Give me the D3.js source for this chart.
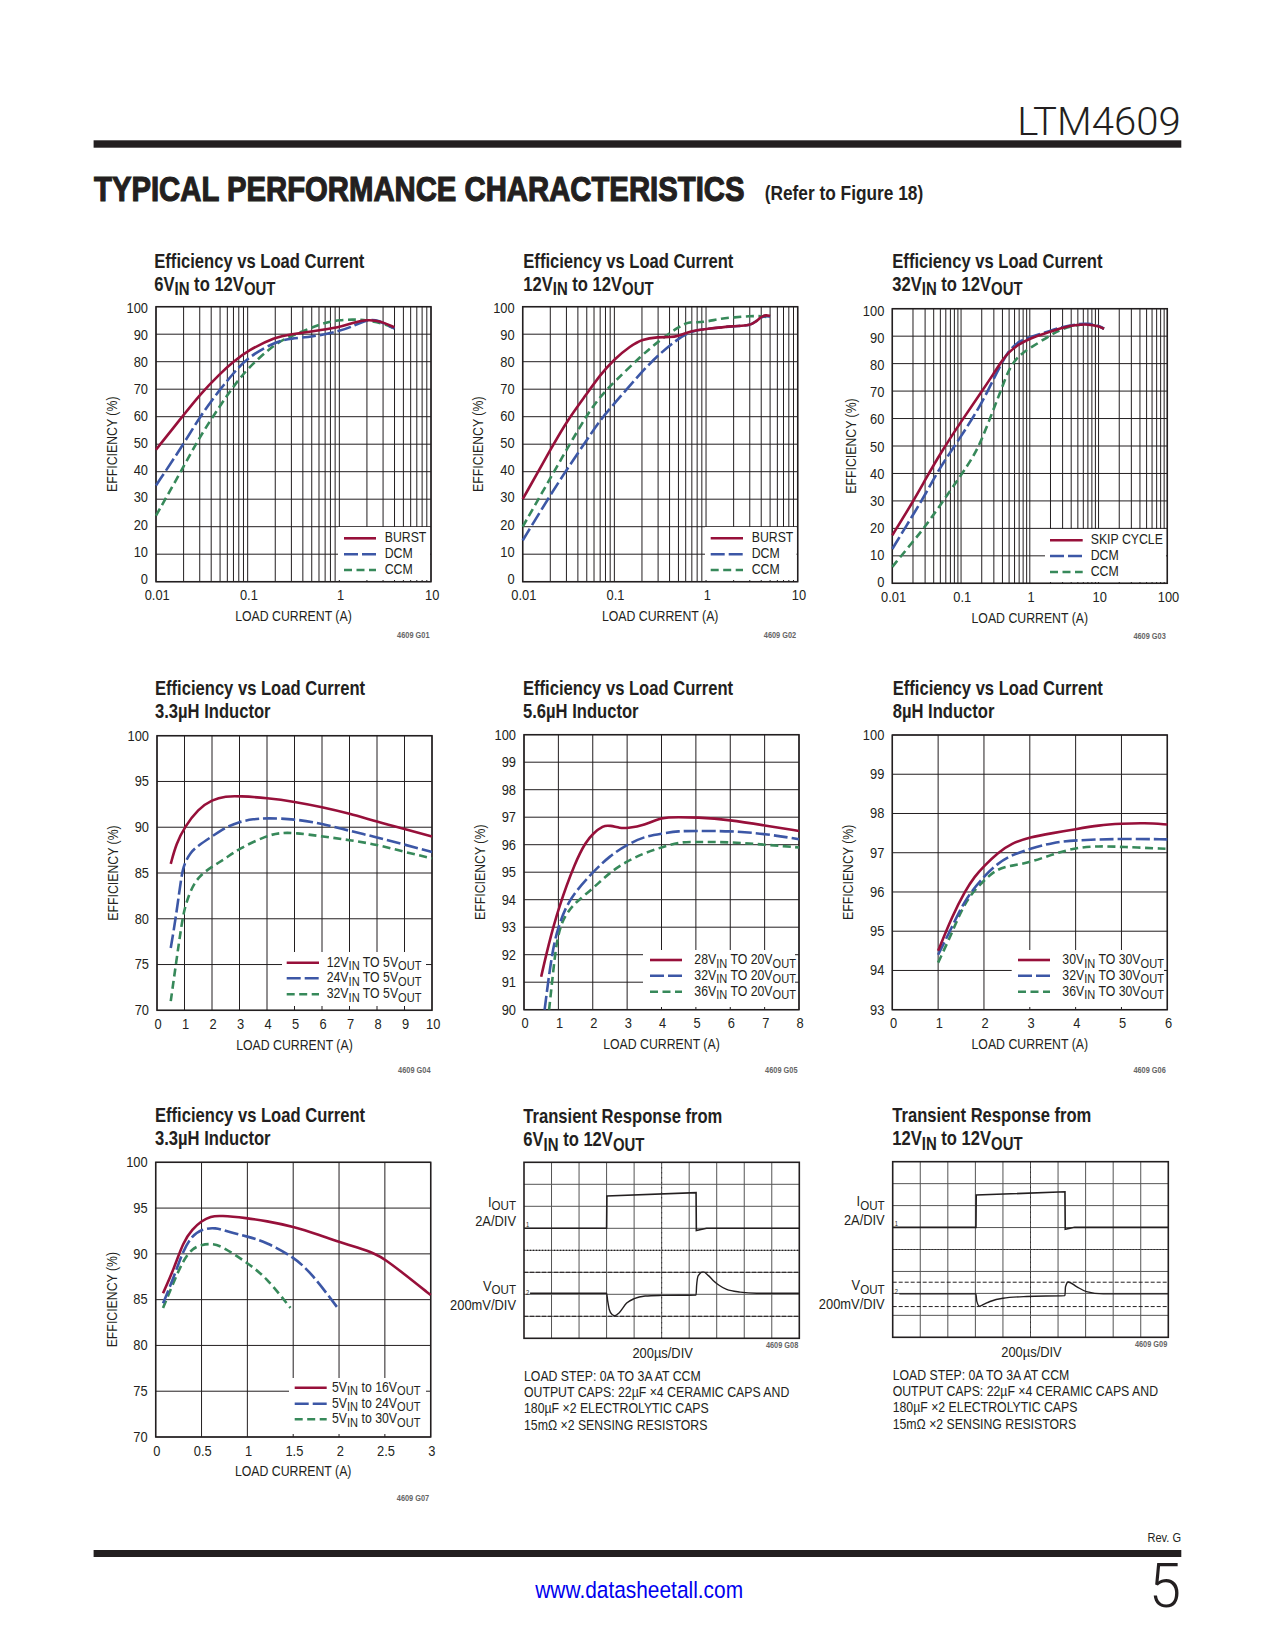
<!DOCTYPE html>
<html>
<head>
<meta charset="utf-8">
<script src="https://cdn.jsdelivr.net/npm/d3@7"></script>
<style>
  html, body { margin: 0; background: #fff; }
  text { font-family: "Liberation Sans", sans-serif; fill: #231f20; }
  .domain { display: none; }
</style>
</head>
<body>
<svg id="page" width="1275" height="1650"></svg>
<script>
// ── Values: [load current (A), efficiency (%)] ───────────────────────────────
const g01Burst = [[0.01,48],[0.02,60.6],[0.03,68],[0.05,75.7],[0.07,80],[0.1,84],[0.2,89],[0.3,90],[0.5,91],[1,92.4],[1.5,94.5],[2,95.2],[2.5,95],[3,94.3],[4,92.5]];
const g01Dcm   = [[0.01,35],[0.02,50],[0.03,60],[0.05,70],[0.07,75.8],[0.1,81.6],[0.2,87.3],[0.3,88.5],[0.5,89],[1,91],[1.5,93.3],[2,95.2],[2.5,95.2],[3,94.2],[4,92]];
const g01Ccm   = [[0.01,24],[0.02,41.8],[0.03,52.7],[0.05,64],[0.07,71],[0.1,77.6],[0.2,86.7],[0.3,89.3],[0.5,92.5],[0.7,94.2],[1,95.2],[1.5,95.4],[2,95],[3,94],[4,92]];

const g02Burst = [[0.01,30],[0.02,47.9],[0.03,58.2],[0.05,68.3],[0.07,75.2],[0.1,81],[0.15,85.7],[0.2,88.2],[0.3,89],[0.4,88.9],[0.5,89.3],[0.7,91.3],[1,91.9],[2,93],[3,93.1],[3.5,94.5],[4,96.4],[4.5,97],[5,96.6]];
const g02Dcm   = [[0.01,15],[0.02,31.5],[0.03,40.6],[0.05,51.5],[0.07,58.8],[0.1,64.8],[0.2,76.4],[0.3,82.4],[0.5,88.5],[0.7,91.2],[1,91.9],[2,93],[3,93.1],[3.5,94.6],[4,96.2],[4.5,96.7],[5,96.4]];
const g02Ccm   = [[0.01,20],[0.02,37.6],[0.03,47.9],[0.05,60.6],[0.07,67.3],[0.1,72.7],[0.2,82.4],[0.3,87.3],[0.5,92.7],[0.65,94.5],[0.8,94.3],[1,94.5],[1.5,95.8],[2,96.1],[3,96.6],[4,96.6],[5,96.1]];

const g03Skip  = [[0.01,17.5],[0.02,29.7],[0.03,37.6],[0.05,47.3],[0.1,58.9],[0.2,69.8],[0.3,76.5],[0.4,81.3],[0.5,84.3],[0.7,87.1],[1,89.2],[2,91.6],[3,93.2],[5,94.2],[7,94.3],[10,93.7],[12,92.7]];
const g03Dcm   = [[0.01,12.5],[0.02,24.9],[0.03,32.2],[0.05,42.5],[0.1,53.4],[0.2,65.5],[0.3,74.6],[0.4,80.7],[0.5,84.9],[0.7,88.2],[1,89.6],[2,92],[3,93.4],[5,94.4],[7,94.7],[10,93.8],[12,92.7]];
const g03Ccm   = [[0.01,6],[0.02,15.2],[0.03,20.6],[0.05,28.5],[0.1,39.4],[0.15,46],[0.2,52.2],[0.3,63.7],[0.4,71.6],[0.5,78.3],[0.7,83.1],[1,85.6],[2,90.4],[3,92.8],[5,94.2],[7,94.4],[10,93.8],[12,92.7]];

const g04a = [[0.5,86],[0.7,88.2],[1,90],[1.5,92],[2,93],[2.5,93.4],[3,93.4],[4,93.2],[5,92.8],[6,92.2],[7,91.5],[8,90.6],[9,89.8],[10,89]];
const g04b = [[0.5,76.8],[0.7,80.4],[0.9,85],[1,86],[1.2,87.2],[1.5,88],[2,89],[2.5,90],[3,90.6],[3.5,90.9],[4,91],[5,90.9],[6,90.4],[7,89.6],[8,88.9],[9,88.1],[10,87.3]];
const g04c = [[0.5,71],[0.7,75.3],[0.9,79.5],[1,81.1],[1.2,83],[1.5,84.6],[2,85.7],[2.5,86.6],[3,87.7],[4,89.1],[4.5,89.4],[5,89.4],[6,89],[7,88.6],[8,88.1],[9,87.3],[10,86.6]];

const g05a = [[0.5,91.2],[0.7,92.3],[1,93.7],[1.5,95.4],[1.8,96.1],[2,96.4],[2.3,96.7],[2.5,96.7],[2.8,96.6],[3,96.6],[3.5,96.7],[4,97],[4.5,97],[5,97],[6,96.9],[7,96.7],[8,96.5]];
const g05b = [[0.6,90],[0.7,91],[0.85,92.3],[1,93],[1.2,93.7],[1.5,94.3],[2,95],[2.5,95.6],[3,96],[3.5,96.3],[4,96.4],[4.5,96.5],[5,96.5],[6,96.5],[7,96.4],[8,96.2]];
const g05c = [[0.73,90],[0.85,91.4],[0.95,92.5],[1.1,93.2],[1.3,93.6],[1.5,93.9],[2,94.4],[2.5,95],[3,95.4],[3.5,95.7],[4,95.9],[4.5,96.1],[5,96.1],[6,96.1],[7,96],[8,95.9]];

const g06a = [[1,94.5],[1.3,95.37],[1.6,96.05],[1.8,96.4],[2,96.66],[2.3,97],[2.6,97.24],[3,97.4],[3.5,97.5],[4,97.6],[4.5,97.7],[5,97.74],[5.5,97.76],[6,97.72]];
const g06b = [[1,94.4],[1.3,95.1],[1.6,95.84],[2,96.4],[2.3,96.73],[2.6,96.94],[3,97.1],[3.5,97.26],[4,97.32],[5,97.36],[6,97.34]];
const g06c = [[1,94.2],[1.3,94.95],[1.6,95.8],[2,96.3],[2.3,96.6],[2.6,96.67],[3,96.75],[3.5,96.96],[4,97.13],[4.5,97.17],[5,97.15],[6,97.1]];

const g07a = [[0.08,85.7],[0.2,88.4],[0.3,91.3],[0.4,92.7],[0.5,93.6],[0.6,94.1],[0.7,94.2],[1,93.9],[1.2,93.6],[1.5,93],[1.8,92],[2,91.3],[2.2,90.7],[2.4,90],[2.5,89.4],[2.7,87.9],[3,85.5]];
const g07b = [[0.08,84.6],[0.2,87.5],[0.3,90.4],[0.4,92],[0.5,92.7],[0.65,92.9],[0.8,92.4],[1,91.9],[1.2,91.3],[1.5,89.7],[1.7,87.9],[2,83.9]];
const g07c = [[0.08,84.1],[0.2,87],[0.3,89.3],[0.4,90.6],[0.5,91],[0.6,91.1],[0.7,91],[1,89],[1.2,87.5],[1.47,84.1]];

// Scope traces: [divisions from left, divisions from top]
const g08Iout = [[0,3],[3,3],[3.01,1.53],[6.25,1.38],[6.26,3.1],[6.63,3],[10,3]];
const g08Vout = [[0.22,5.95],[3,5.95],[3.04,6.3],[3.1,6.7],[3.2,6.92],[3.3,6.97],[3.45,6.85],[3.73,6.4],[4,6.2],[4.4,6.08],[5,6.05],[6.25,6.03],[6.27,5.6],[6.33,5.15],[6.51,4.98],[6.7,5.15],[6.88,5.38],[7.1,5.6],[7.36,5.78],[7.85,5.9],[8.45,5.95],[10,5.95]];
const g09Iout = [[0,2.99],[3.02,2.99],[3.03,1.52],[6.25,1.37],[6.26,3.08],[6.6,2.99],[10,2.99]];
const g09Vout = [[0.24,6.02],[3.02,6.02],[3.05,6.35],[3.15,6.58],[3.3,6.5],[3.53,6.37],[4,6.22],[4.86,6.14],[6.25,6.1],[6.27,5.7],[6.37,5.48],[6.67,5.69],[7.03,5.92],[7.64,6.02],[10,6.02]];

const scopeLevelsG08 = [5, 7];
const scopeLevelsG09 = [5.49, 6.6];

const noteLines = ["LOAD STEP: 0A TO 3A AT CCM", "OUTPUT CAPS: 22µF ×4 CERAMIC CAPS AND", "180µF ×2 ELECTROLYTIC CAPS", "15mΩ ×2 SENSING RESISTORS"];

const logTicks2 = [0.01,0.02,0.03,0.04,0.05,0.06,0.07,0.08,0.09,0.1,0.2,0.3,0.4,0.5,0.6,0.7,0.8,0.9,1,2,3,4,5,6,7,8,9,10];
const logTicks3 = logTicks2.concat([20,30,40,50,60,70,80,90,100]);
const logLabels = [0.01, 0.1, 1, 10, 100];

const RED = "#97103a", BLUE = "#3c57a6", GREEN = "#37895a";
const curveStyles = [
  { color: RED,   dash: null },
  { color: BLUE,  dash: "14,4" },
  { color: GREEN, dash: "8,4.5" }
];

const svg = d3.select("#page");

// text with subscripts: parts are [string, isSub]
function richText(parent, x, y, parts, size, opts = {}) {
  const t = parent.append("text")
    .attr("x", x).attr("y", y)
    .style("font-size", size + "px")
    .style("font-weight", opts.bold ? "bold" : "normal")
    .attr("text-anchor", opts.anchor || "start");
  if (opts.cls) t.attr("class", opts.cls);
  let wasSub = false;
  parts.forEach(([str, sub]) => {
    const isSub = !!sub;
    const shift = isSub === wasSub ? 0 : (isSub ? size * 0.24 : -size * 0.24);
    t.append("tspan").attr("dy", shift)
      .style("font-size", (isSub ? size * 0.9 : size) + "px")
      .text(str);
    wasSub = isSub;
  });
  return t;
}

// squeeze a text to a measured width, about its own x
function fitWidth(sel, target) {
  const ax = +sel.attr("x") || 0;
  const f = target / sel.node().getComputedTextLength();
  sel.classed("fixed", true)
    .attr("transform", `translate(${ax},0) scale(${f},1) translate(${-ax},0)`);
}

// ── Page furniture ───────────────────────────────────────────────────────────
svg.append("rect").attr("x", 93.6).attr("y", 140.3).attr("width", 1087.7).attr("height", 7.4).attr("fill", "#231f20");
svg.append("rect").attr("x", 93.6).attr("y", 1550).attr("width", 1087.7).attr("height", 7).attr("fill", "#231f20");

fitWidth(svg.append("text").attr("x", 1017.3).attr("y", 135)
  .style("font-family", "Roboto").style("font-weight", 300).style("font-size", "39px").text("LTM4609"), 163.4);

fitWidth(svg.append("text").attr("x", 94).attr("y", 201)
  .style("font-weight", "bold").style("font-size", "36px")
  .style("stroke", "#231f20").style("stroke-width", 1.2)
  .text("TYPICAL PERFORMANCE CHARACTERISTICS"), 650.7);

fitWidth(svg.append("text").attr("x", 764.7).attr("y", 200)
  .style("font-weight", "bold").style("font-size", "20px").text("(Refer to Figure 18)"), 158.6);

svg.append("text").attr("x", 1181).attr("y", 1541.7).attr("text-anchor", "end").style("font-size", "13.5px").text("Rev. G");
fitWidth(svg.append("text").attr("x", 1181).attr("y", 1607).attr("text-anchor", "end")
  .style("font-family", "Roboto").style("font-weight", 300).style("font-size", "62px").text("5"), 32);
fitWidth(svg.append("text").attr("x", 535.3).attr("y", 1598)
  .style("font-size", "23.5px").style("fill", "#0000ee").text("www.datasheetall.com"), 207.9);

// ── Efficiency charts ────────────────────────────────────────────────────────
function drawEfficiency(c) {
  const w = c.x1 - c.x0, h = c.y1 - c.y0;
  const x = c.log
    ? d3.scaleLog().domain(c.xDomain).range([c.x0, c.x1])
    : d3.scaleLinear().domain(c.xDomain).range([c.x0, c.x1]);
  const y = d3.scaleLinear().domain(c.yDomain).range([c.y1, c.y0]);
  const g = svg.append("g");

  const xAxis = d3.axisBottom(x).offset(0).tickSizeInner(-h).tickSizeOuter(0).tickPadding(8)
    .tickValues(c.xTicks)
    .tickFormat(d => c.log ? (logLabels.includes(d) ? String(d) : "") : String(d));
  const yAxis = d3.axisLeft(y).offset(0).tickSizeInner(-w).tickSizeOuter(0).tickPadding(8)
    .tickValues(c.yTicks).tickFormat(d3.format("d"));

  const gx = g.append("g").attr("transform", `translate(0,${c.y1})`).call(xAxis);
  const gy = g.append("g").attr("transform", `translate(${c.x0},0)`).call(yAxis);
  g.selectAll(".tick line").attr("stroke", "#231f20").attr("stroke-width", 1);
  g.selectAll(".tick text").style("font-size", "15px").attr("fill", "#231f20");
  gx.selectAll(".tick text").attr("x", 1.2);

  // the printed y labels drift a little from their gridlines in the top row
  const drift = d3.scaleLinear().domain(c.yDomain).range(c.yLabelDrift || [0, 0]);
  gy.selectAll(".tick text").attr("y", d => drift(d));

  // legend knocks out the grid behind it
  g.append("rect").attr("x", c.box[0]).attr("y", c.box[1])
    .attr("width", c.box[2] - c.box[0]).attr("height", c.box[3] - c.box[1]).attr("fill", "#fff");

  g.append("rect").attr("x", c.x0).attr("y", c.y0).attr("width", w).attr("height", h)
    .attr("fill", "none").attr("stroke", "#231f20").attr("stroke-width", 1.5);

  const line = d3.line().x(d => x(d[0])).y(d => y(d[1])).curve(d3.curveBasis);
  c.series.map((s, i) => [s, curveStyles[i]]).reverse().forEach(([s, st]) => {
    g.append("path").attr("d", line(s)).attr("fill", "none")
      .attr("stroke", st.color).attr("stroke-width", 2.6)
      .attr("stroke-dasharray", st.dash);
  });

  c.legend.forEach((parts, i) => {
    const st = curveStyles[i], ly = c.legendY[i];
    g.append("line").attr("x1", c.swatch[0]).attr("x2", c.swatch[1]).attr("y1", ly).attr("y2", ly)
      .attr("stroke", st.color).attr("stroke-width", 2.6).attr("stroke-dasharray", st.dash);
    richText(g, c.legendX, ly + 4, parts, 15);
  });

  richText(g, c.titleX, c.titleY[0], c.title[0], 20, { bold: true, cls: "head" });
  richText(g, c.titleX, c.titleY[1], c.title[1], 20, { bold: true, cls: "head" });

  g.append("text").attr("x", (c.x0 + c.x1) / 2).attr("y", c.y1 + 39.5).attr("text-anchor", "middle")
    .style("font-size", "15px").text("LOAD CURRENT (A)");
  g.append("text").attr("transform", `translate(${c.yLabelX + 5},${(c.y0 + c.y1) / 2}) rotate(-90)`)
    .attr("text-anchor", "middle").style("font-size", "15px").text("EFFICIENCY (%)");
  g.append("text").attr("x", c.x1 - 1.5).attr("y", c.y1 + c.codeDy).attr("text-anchor", "end")
    .style("font-size", "9px").style("font-weight", "bold").style("fill", "#666").text(c.code);
}

const EVL = [["Efficiency vs Load Current"]];
const viLegend = (a, rest) => [[a + "V"], ["IN", true], [` ${rest}V`], ["OUT", true]];
const lin = (a, b, s = 1) => d3.range(a, b + s / 2, s);

drawEfficiency({ x0: 156, x1: 431, y0: 306.7, y1: 581.7, log: true, xDomain: [0.01, 10], yDomain: [0, 100],
  xTicks: logTicks2, yTicks: lin(0, 100, 10), series: [g01Burst, g01Dcm, g01Ccm], yLabelDrift: [-2.7, 1], codeDy: 56,
  box: [338, 527, 430, 580], swatch: [344, 376], legendX: 384.7, legendY: [538.3, 554.3, 570],
  legend: [[["BURST"]], [["DCM"]], [["CCM"]]], titleX: 154.3, titleY: [267.7, 290.7],
  title: [EVL, viLegend("6", "to 12")], yLabelX: 111.7, code: "4609 G01" });

drawEfficiency({ x0: 522.7, x1: 797.7, y0: 306.7, y1: 581.7, log: true, xDomain: [0.01, 10], yDomain: [0, 100],
  xTicks: logTicks2, yTicks: lin(0, 100, 10), series: [g02Burst, g02Dcm, g02Ccm], yLabelDrift: [-2.7, 1], codeDy: 56,
  box: [705, 527, 796.5, 580], swatch: [710.7, 743], legendX: 751.7, legendY: [538.3, 554.3, 570],
  legend: [[["BURST"]], [["DCM"]], [["CCM"]]], titleX: 523.3, titleY: [267.7, 290.7],
  title: [EVL, viLegend("12", "to 12")], yLabelX: 478.3, code: "4609 G02" });

drawEfficiency({ x0: 892.3, x1: 1167.3, y0: 308.7, y1: 583.3, log: true, xDomain: [0.01, 100], yDomain: [0, 100],
  xTicks: logTicks3, yTicks: lin(0, 100, 10), series: [g03Skip, g03Dcm, g03Ccm], yLabelDrift: [-0.7, 2.2], codeDy: 56,
  box: [1045, 529, 1166, 582], swatch: [1050, 1082.7], legendX: 1090.7, legendY: [540.3, 556, 572],
  legend: [[["SKIP CYCLE"]], [["DCM"]], [["CCM"]]], titleX: 892.3, titleY: [267.7, 290.7],
  title: [EVL, viLegend("32", "to 12")], yLabelX: 851, code: "4609 G03" });

drawEfficiency({ x0: 157, x1: 432, y0: 735.7, y1: 1010.3, xDomain: [0, 10], yDomain: [70, 100],
  xTicks: lin(0, 10), yTicks: lin(70, 100, 5), series: [g04a, g04b, g04c], codeDy: 63,
  box: [282, 952, 426, 1006], swatch: [286.7, 319], legendX: 326.7, legendY: [962.7, 978.3, 994.3],
  legend: [viLegend("12", "TO 5"), viLegend("24", "TO 5"), viLegend("32", "TO 5")], titleX: 155, titleY: [695, 718],
  title: [EVL, [["3.3µH Inductor"]]], yLabelX: 112.7, code: "4609 G04" });

drawEfficiency({ x0: 524, x1: 799, y0: 734.7, y1: 1009.7, xDomain: [0, 8], yDomain: [90, 100],
  xTicks: lin(0, 8), yTicks: lin(90, 100), series: [g05a, g05b, g05c], codeDy: 63,
  box: [643, 950, 795, 1007], swatch: [650, 682], legendX: 694.3, legendY: [960, 975.7, 991.7],
  legend: [viLegend("28", "TO 20"), viLegend("32", "TO 20"), viLegend("36", "TO 20")], titleX: 523, titleY: [695, 718],
  title: [EVL, [["5.6µH Inductor"]]], yLabelX: 480, code: "4609 G05" });

drawEfficiency({ x0: 892.3, x1: 1167.3, y0: 735, y1: 1009.7, xDomain: [0, 6], yDomain: [93, 100],
  xTicks: lin(0, 6), yTicks: lin(93, 100), series: [g06a, g06b, g06c], codeDy: 63,
  box: [1011.7, 950, 1164, 1007], swatch: [1018, 1050], legendX: 1062.3, legendY: [960, 975.7, 991.7],
  legend: [viLegend("30", "TO 30"), viLegend("32", "TO 30"), viLegend("36", "TO 30")], titleX: 892.7, titleY: [695, 718],
  title: [EVL, [["8µH Inductor"]]], yLabelX: 848, code: "4609 G06" });

drawEfficiency({ x0: 155.7, x1: 430.7, y0: 1162.3, y1: 1437, xDomain: [0, 3], yDomain: [70, 100],
  xTicks: lin(0, 3, 0.5), yTicks: lin(70, 100, 5), series: [g07a, g07b, g07c], codeDy: 64,
  box: [289, 1378, 426, 1434], swatch: [294.7, 326.7], legendX: 332, legendY: [1387.7, 1403.7, 1419.3],
  legend: [viLegend("5", "to 16"), viLegend("5", "to 24"), viLegend("5", "to 30")], titleX: 155, titleY: [1121.7, 1145],
  title: [EVL, [["3.3µH Inductor"]]], yLabelX: 111.7, code: "4609 G07" });

// ── Scope shots ──────────────────────────────────────────────────────────────
function drawScope(c) {
  const w = c.x1 - c.x0, h = c.y1 - c.y0;
  const x = d3.scaleLinear().domain([0, 10]).range([c.x0, c.x1]);
  const y = d3.scaleLinear().domain([0, 8]).range([c.y0, c.y1]);
  const g = svg.append("g");

  const gridX = d3.axisBottom(x).offset(0).tickValues(lin(1, 9)).tickSizeInner(-h).tickSizeOuter(0).tickFormat("");
  const gridY = d3.axisLeft(y).offset(0).tickValues(lin(1, 7)).tickSizeInner(-w).tickSizeOuter(0).tickFormat("");
  g.append("g").attr("transform", `translate(0,${c.y1})`).call(gridX);
  g.append("g").attr("transform", `translate(${c.x0},0)`).call(gridY);
  g.selectAll("line").attr("stroke", "#555").attr("stroke-width", 1);

  // dotted centre lines and cursor levels
  g.append("line").attr("x1", x(5)).attr("x2", x(5)).attr("y1", c.y0).attr("y2", c.y1)
    .attr("stroke", "#231f20").attr("stroke-width", 1).attr("stroke-dasharray", "1,4");
  g.append("line").attr("x1", c.x0).attr("x2", c.x1).attr("y1", y(4)).attr("y2", y(4))
    .attr("stroke", "#231f20").attr("stroke-width", 1.2).attr("stroke-dasharray", "1,2");
  c.levels.forEach(l => {
    g.append("line").attr("x1", c.x0).attr("x2", c.x1).attr("y1", y(l)).attr("y2", y(l))
      .attr("stroke", "#231f20").attr("stroke-width", 1).attr("stroke-dasharray", "4,2");
  });

  const line = d3.line().x(d => x(d[0])).y(d => y(d[1]));
  g.append("path").attr("d", line(c.iout)).attr("fill", "none").attr("stroke", "#231f20").attr("stroke-width", 1.6);
  g.append("path").attr("d", line.curve(d3.curveMonotoneX)(c.vout)).attr("fill", "none").attr("stroke", "#231f20").attr("stroke-width", 1.4);

  g.append("rect").attr("x", c.x0).attr("y", c.y0).attr("width", w).attr("height", h)
    .attr("fill", "none").attr("stroke", "#231f20").attr("stroke-width", 1.6);

  g.append("text").attr("x", c.x0 + 2).attr("y", y(2.95)).style("font-size", "7px").text("1");
  g.append("text").attr("x", c.x0 + 2).attr("y", y(6.02)).style("font-size", "7px").text("2");

  const lx = c.x0 - 8;
  richText(g, c.titleX, c.y0 - 39.6, c.title[0], 20, { bold: true, cls: "head" });
  richText(g, c.titleX, c.y0 - 16.3, c.title[1], 20, { bold: true, cls: "head" });
  richText(g, lx, c.y0 + 44.5, [["I"], ["OUT", true]], 15, { anchor: "end", cls: "wide" });
  g.append("text").attr("class", "wide").attr("x", lx).attr("y", c.y0 + 63.5).attr("text-anchor", "end").style("font-size", "15px").text("2A/DIV");
  richText(g, lx, c.y0 + 128.5, [["V"], ["OUT", true]], 15, { anchor: "end", cls: "wide" });
  g.append("text").attr("class", "wide").attr("x", lx).attr("y", c.y0 + 147.5).attr("text-anchor", "end").style("font-size", "15px").text("200mV/DIV");

  g.append("text").attr("class", "wide").attr("x", (c.x0 + c.x1) / 2 + 1).attr("y", c.y1 + 19.5).attr("text-anchor", "middle")
    .style("font-size", "15px").text("200µs/DIV");
  g.append("text").attr("x", c.x1 - 1).attr("y", c.y1 + 10).attr("text-anchor", "end")
    .style("font-size", "9px").style("font-weight", "bold").style("fill", "#666").text(c.code);

  noteLines.forEach((s, i) => {
    g.append("text").attr("x", c.x0).attr("y", c.y1 + [42.7, 59, 75, 91.7][i]).style("font-size", "15px").text(s);
  });
}

drawScope({ x0: 524, x1: 799.3, y0: 1162.3, y1: 1338.3, iout: g08Iout, vout: g08Vout, levels: scopeLevelsG08,
  titleX: 523.3, title: [[["Transient Response from"]], viLegend("6", "to 12")], code: "4609 G08" });
drawScope({ x0: 892.7, x1: 1168.3, y0: 1161.7, y1: 1337.3, iout: g09Iout, vout: g09Vout, levels: scopeLevelsG09,
  titleX: 892.3, title: [[["Transient Response from"]], viLegend("12", "to 12")], code: "4609 G09" });

// ── Narrow the lettering: no condensed face is installed ─────────────────────
svg.selectAll("text:not(.fixed)").each(function () {
  const el = d3.select(this);
  if (!el.text()) return;
  const ax = +el.attr("x") || 0;
  const factor = this.closest(".tick") ? 0.86
    : el.classed("head") ? 0.83
    : el.classed("wide") ? 0.86 : 0.82;
  const before = el.attr("transform") || "";
  el.attr("transform", `${before} translate(${ax},0) scale(${factor},1) translate(${-ax},0)`);
});
</script>
</body>
</html>
